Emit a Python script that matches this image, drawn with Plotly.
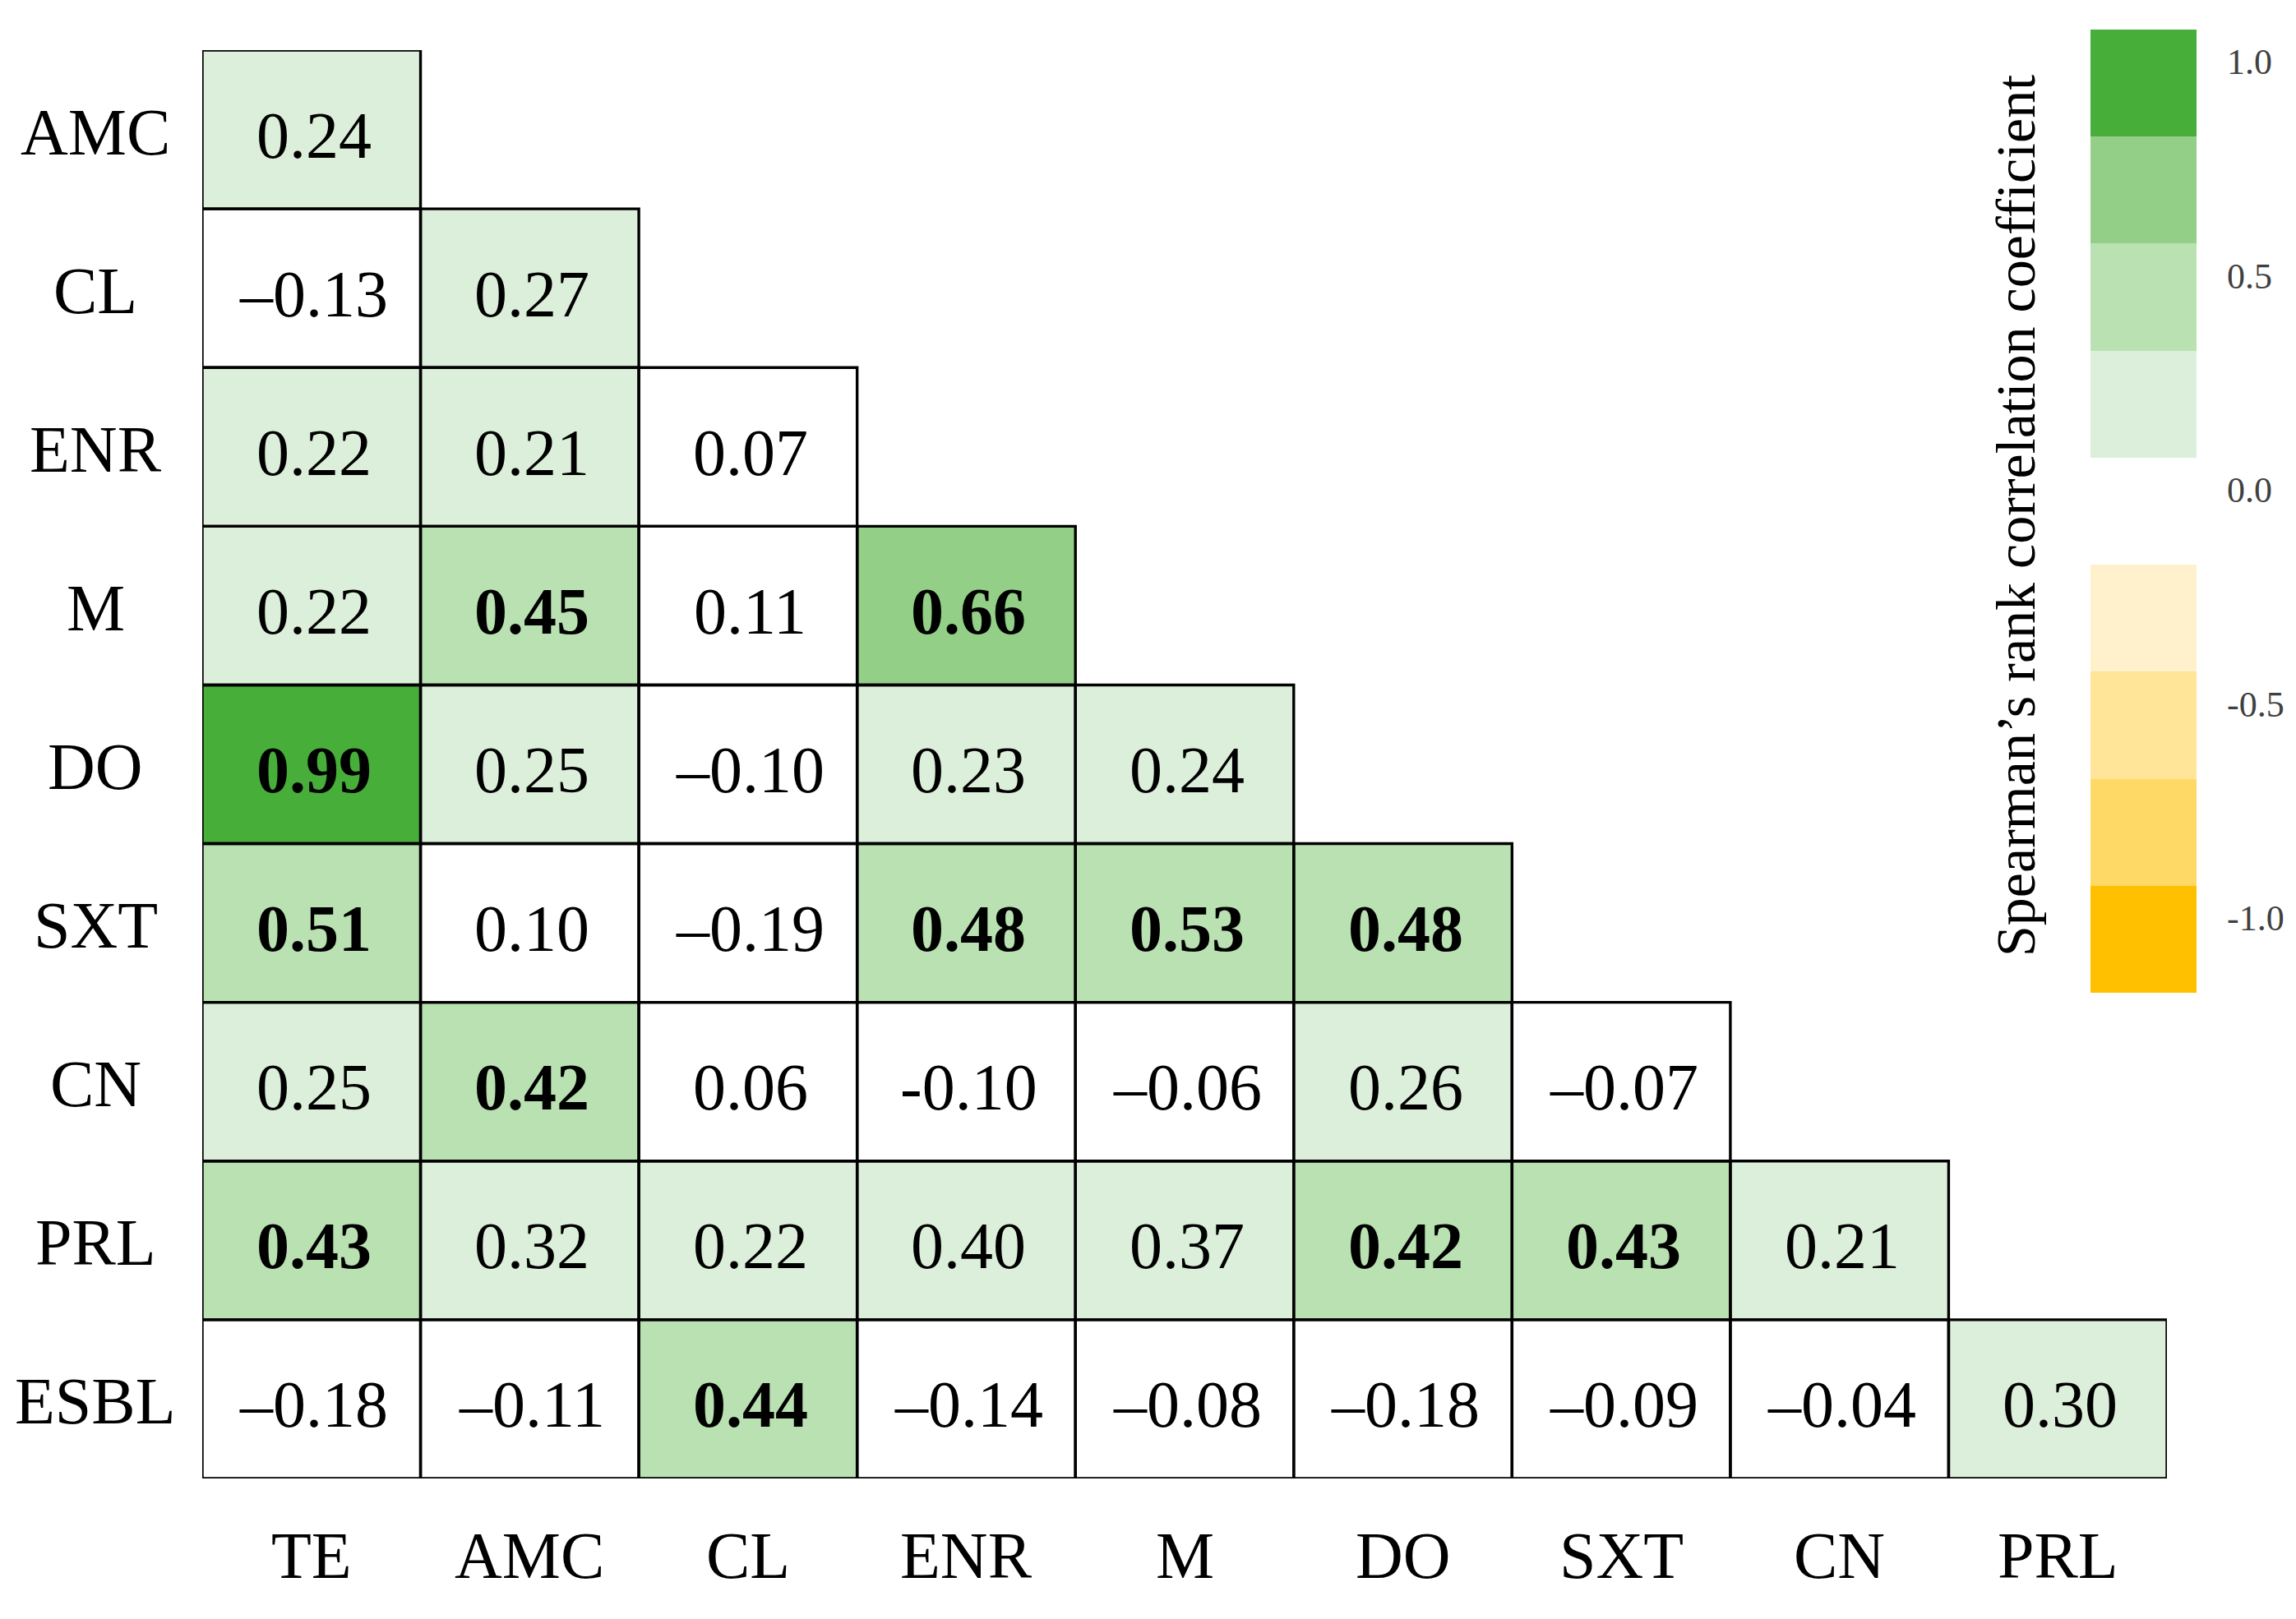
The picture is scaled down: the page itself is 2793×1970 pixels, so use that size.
import plotly.graph_objects as go

# ---------------- data ----------------
ROW_LABELS = ["AMC", "CL", "ENR", "M", "DO", "SXT", "CN", "PRL", "ESBL"]
COL_LABELS = ["TE", "AMC", "CL", "ENR", "M", "DO", "SXT", "CN", "PRL"]

row_AMC = [0.24]
row_CL = [-0.13, 0.27]
row_ENR = [0.22, 0.21, 0.07]
row_M = [0.22, 0.45, 0.11, 0.66]
row_DO = [0.99, 0.25, -0.10, 0.23, 0.24]
row_SXT = [0.51, 0.10, -0.19, 0.48, 0.53, 0.48]
row_CN = [0.25, 0.42, 0.06, -0.10, -0.06, 0.26, -0.07]
row_PRL = [0.43, 0.32, 0.22, 0.40, 0.37, 0.42, 0.43, 0.21]
row_ESBL = [-0.18, -0.11, 0.44, -0.14, -0.08, -0.18, -0.09, -0.04, 0.30]

ROWS = [row_AMC, row_CL, row_ENR, row_M, row_DO, row_SXT, row_CN, row_PRL, row_ESBL]

# cells printed with a short hyphen in the original
HYPHEN_CELLS = {("CN", "ENR")}

# colour legend
LEGEND_TICKS = [-1.0, -0.5, 0.0, 0.5, 1.0]
LEGEND_CENTERS = [-1.05, -0.80, -0.55, -0.30, -0.05, 0.20, 0.45, 0.70, 0.95]
LEGEND_LEVEL = [-4, -3, -2, -1, None, 1, 2, 3, 4]

# ---------------- styles ----------------
W, H = 2793, 1970
FONT = "Liberation Serif"
G1, G2, G3, G4 = "#dcefda", "#b9e1b1", "#93cf87", "#47ae3a"
Y1, Y2, Y3, Y4 = "#fff1cc", "#ffe597", "#ffd966", "#ffc000"
DX, DY = -8, -8  # global pixel nudge

n = len(COL_LABELS)
Z = [[None] * n for _ in range(n)]
cells = []
bx, by = [], []
for i, vals in enumerate(ROWS):
    for j, v in enumerate(vals):
        Z[i][j] = v
        s = f"{abs(v):.2f}"
        if v < 0:
            s = ("-" if (ROW_LABELS[i], COL_LABELS[j]) in HYPHEN_CELLS else "\u2013") + s
        if v >= 0.41:
            s = f"<b>{s}</b>"
        cells.append((j, i, s))
        x0, x1, y0, y1 = j - 0.5, j + 0.5, i - 0.5, i + 0.5
        bx += [x0, x1, x1, x0, x0, None]
        by += [y0, y0, y1, y1, y0, None]

# discrete scale for cells (zmin=-1, zmax=1)
def nz(v):
    return (v + 1) / 2

cell_scale = [
    [0, "#ffffff"], [nz(0.15), "#ffffff"],
    [nz(0.15), G1], [nz(0.41), G1],
    [nz(0.41), G2], [nz(0.60), G2],
    [nz(0.60), G3], [nz(0.80), G3],
    [nz(0.80), G4], [1, G4],
]

# discrete legend scale (levels -4..4)
leg_cols = [Y4, Y3, Y2, Y1, "#ffffff", G1, G2, G3, G4]
leg_scale = []
for k, c in enumerate(leg_cols):
    leg_scale.append([k / 9, c])
    leg_scale.append([(k + 1) / 9, c])

fig = go.Figure()

fig.add_trace(go.Heatmap(
    z=Z, x=list(range(n)), y=list(range(n)),
    colorscale=cell_scale, zmin=-1, zmax=1, showscale=False,
    hoverinfo="skip", xaxis="x", yaxis="y",
))

fig.add_trace(go.Scatter(
    x=bx, y=by, mode="lines", line=dict(color="black", width=3.4),
    hoverinfo="skip", showlegend=False, xaxis="x", yaxis="y",
))

fig.add_trace(go.Heatmap(
    z=[[v] for v in LEGEND_LEVEL], x=[0], y=LEGEND_CENTERS,
    colorscale=leg_scale, zmin=-4.5, zmax=4.5, showscale=False,
    hoverinfo="skip", xaxis="x2", yaxis="y2",
))


def px(x):
    return (x + DX) / W


def py(y):
    return 1 - (y + DY) / H


annotations = []
for (j, i, s) in cells:
    annotations.append(dict(
        x=j, xref="x", y=i, yref="y", text=s, showarrow=False,
        xanchor="center", yanchor="middle", xshift=3, yshift=-7,
        font=dict(family=FONT, size=80, color="black"),
    ))
for i, lab in enumerate(ROW_LABELS):
    annotations.append(dict(
        x=px(116), xref="paper", y=i, yref="y", text=lab, showarrow=False,
        xanchor="center", yanchor="middle", yshift=-3,
        font=dict(family=FONT, size=80, color="black"),
    ))
for j, lab in enumerate(COL_LABELS):
    annotations.append(dict(
        x=j, xref="x", y=py(1893), yref="paper", text=lab, showarrow=False,
        xanchor="center", yanchor="middle",
        font=dict(family=FONT, size=80, color="black"),
    ))
annotations.append(dict(
    x=px(2452), xref="paper", y=py(628), yref="paper",
    text="Spearman\u2019s rank correlation coefficient", textangle=-90,
    showarrow=False, xanchor="center", yanchor="middle",
    font=dict(family=FONT, size=68, color="black"),
))

fig.update_layout(
    width=W, height=H,
    margin=dict(l=0, r=0, t=0, b=0),
    paper_bgcolor="white", plot_bgcolor="rgba(0,0,0,0)",
    showlegend=False,
    xaxis=dict(domain=[px(246), px(2636)], range=[-0.5, n - 0.5],
               showticklabels=False, showgrid=False, zeroline=False, ticks=""),
    yaxis=dict(domain=[py(1799), py(61)], range=[n - 0.5, -0.5],
               showticklabels=False, showgrid=False, zeroline=False, ticks=""),
    xaxis2=dict(domain=[px(2543), px(2672)], range=[-0.5, 0.5], anchor="y2",
                showticklabels=False, showgrid=False, zeroline=False, ticks=""),
    yaxis2=dict(domain=[py(1208), py(36)], range=[-1.175, 1.075], anchor="x2",
                side="right", tickvals=LEGEND_TICKS,
                ticktext=[f"{v:.1f}" for v in LEGEND_TICKS],
                tickfont=dict(family=FONT, size=44, color="#404040"),
                ticks="", ticklabelstandoff=36,
                showgrid=False, zeroline=False, showline=False),
    annotations=annotations,
)

fig.write_html("out.html")
